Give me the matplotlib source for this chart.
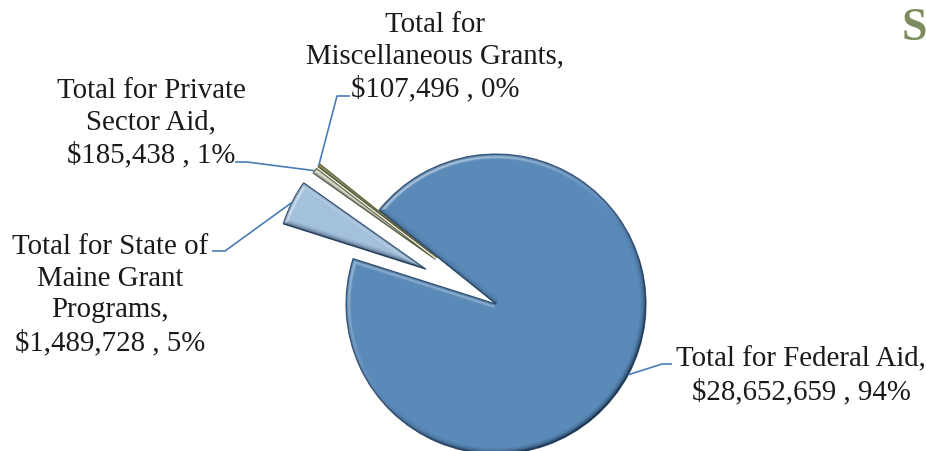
import numpy as np
import matplotlib
matplotlib.use("Agg")
import matplotlib.pyplot as plt

# ---- data -------------------------------------------------------------
categories = [
    "Total for Federal Aid",
    "Total for State of Maine Grant Programs",
    "Total for Private Sector Aid",
    "Total for Miscellaneous Grants",
]
amounts = [28652659, 1489728, 185438, 107496]
pct_labels = ["94%", "5%", "1%", "0%"]
label_text = [
    "Total for Federal Aid,\n$28,652,659 , 94%",
    "Total for State of\nMaine Grant\nPrograms,\n$1,489,728 , 5%",
    "Total for Private\nSector Aid,\n$185,438 , 1%",
    "Total for\nMiscellaneous Grants,\n$107,496 , 0%",
]

# ---- layout / style ---------------------------------------------------
W, H = 926, 452
DPI = 100
colors = ["#5A8AB8", "#A3C0DC", "#DCDCC8", "#9A9A5E"]
rim_strength = [0.35, 0.35, 0.15, 0.15]
explode_px = [0, 78, 75, 75]
radius = 150
center = (496, H - 305)
start_angle = 141.3
text_color = "#1A1A1A"
leader_color = "#4A7DB5"
font = ["Liberation Serif", "DejaVu Serif"]
fsize = 20.8

# label block centres and leader elbows / ends (figure pixel coords, y down)
label_pos = [(801, 376), (110, 295), (151, 123), (435, 57)]
leader_elbow = [(662, 365), (225, 252), (247, 163), (337, 97)]
leader_end = [(672, 365), (212, 252), (235, 163), (350, 97)]

fig = plt.figure(figsize=(W / DPI, H / DPI), dpi=DPI)
ax = fig.add_axes([0, 0, 1, 1])

wedges, _ = ax.pie(amounts, explode=explode_px, colors=colors,
                   startangle=start_angle, counterclock=False,
                   radius=radius, center=center,
                   wedgeprops=dict(linewidth=0.8, edgecolor="#3A5878"))
for w, c in zip(wedges[2:], colors[2:]):
    w.set_edgecolor("#6A6A40")
ax.set_xlim(0, W)
ax.set_ylim(0, H)
ax.set_aspect("equal")
ax.axis("off")


def bevel(ax, w, rim_alpha, width=7.0):
    """Overlay a soft bevel (highlight top-left, shadow bottom-right)."""
    cx, cy = w.center
    r = w.r
    t1, t2 = np.deg2rad(w.theta1), np.deg2rad(w.theta2)
    sc = 2
    xs = (np.arange(W * sc) + 0.5) / sc
    ys = (np.arange(H * sc) + 0.5) / sc
    X, Y = np.meshgrid(xs, ys)
    dx, dy = X - cx, Y - cy
    rho = np.hypot(dx, dy) + 1e-9
    big = 1e6
    d_arc = r - rho
    nx_arc, ny_arc = dx / rho, dy / rho
    # radial edge at t1 (interior counter-clockwise of it)
    u1 = np.array([np.cos(t1), np.sin(t1)])
    n1 = np.array([np.sin(t1), -np.cos(t1)])
    s1 = dx * u1[0] + dy * u1[1]
    d1 = np.where((s1 >= 0) & (s1 <= r), np.abs(dx * n1[0] + dy * n1[1]), big)
    # radial edge at t2 (interior clockwise of it)
    u2 = np.array([np.cos(t2), np.sin(t2)])
    n2 = np.array([-np.sin(t2), np.cos(t2)])
    s2 = dx * u2[0] + dy * u2[1]
    d2 = np.where((s2 >= 0) & (s2 <= r), np.abs(dx * n2[0] + dy * n2[1]), big)

    d = np.minimum(d_arc, np.minimum(d1, d2))
    nx = np.where(d == d_arc, nx_arc, np.where(d == d1, n1[0], n2[0]))
    ny = np.where(d == d_arc, ny_arc, np.where(d == d1, n1[1], n2[1]))
    L = np.array([-0.6, 0.8])
    lit = nx * L[0] + ny * L[1]

    t = np.clip(d / width, 0, 1)
    shadow = np.clip(-lit, 0, 1) ** 0.8 * (1 - t) ** 1.6 * 0.85
    rim = np.exp(-(d / 1.2) ** 2) * rim_alpha
    shadow = np.clip(shadow + rim, 0, 1)
    hl = np.clip(lit, 0, 1) * np.exp(-((d - 3.0) / 1.3) ** 2) * 0.55

    rgba = np.zeros(X.shape + (4,))
    dark = np.array([0.07, 0.14, 0.24])
    alpha = shadow + hl * (1 - shadow)
    col = (dark * shadow[..., None] + 1.0 * hl[..., None] * (1 - shadow[..., None]))
    col = col / np.maximum(alpha[..., None], 1e-6)
    rgba[..., :3] = np.clip(col, 0, 1)
    rgba[..., 3] = np.clip(alpha, 0, 1) * (d >= 0)
    im = ax.imshow(rgba, extent=(0, W, 0, H), origin="lower",
                   interpolation="bilinear", zorder=w.get_zorder() + 0.1)
    im.set_clip_path(w)


for w, ra in zip(wedges, rim_strength):
    bevel(ax, w, ra)

# leader lines and labels
for w, txt, (lx, ly), (ex, ey), (tx, ty) in zip(
        wedges, label_text, leader_elbow, leader_end, label_pos):
    mid = np.deg2rad(0.5 * (w.theta1 + w.theta2))
    ax_, ay_ = w.center[0] + w.r * np.cos(mid), w.center[1] + w.r * np.sin(mid)
    ax.plot([ax_, lx, ex], [ay_, H - ly, H - ey], color=leader_color,
            lw=1.2, solid_capstyle="butt", zorder=5)
    ax.text(tx, H - ty, txt, ha="center", va="center", fontsize=fsize,
            family=font, color=text_color, linespacing=1.29, zorder=6)

# start of the page heading at the right margin
ax.text(902, H - 29, "S", ha="left", va="center", fontsize=33,
        fontweight="bold", family=font, color="#7D8C5F")

fig.savefig("out.png", dpi=DPI)
